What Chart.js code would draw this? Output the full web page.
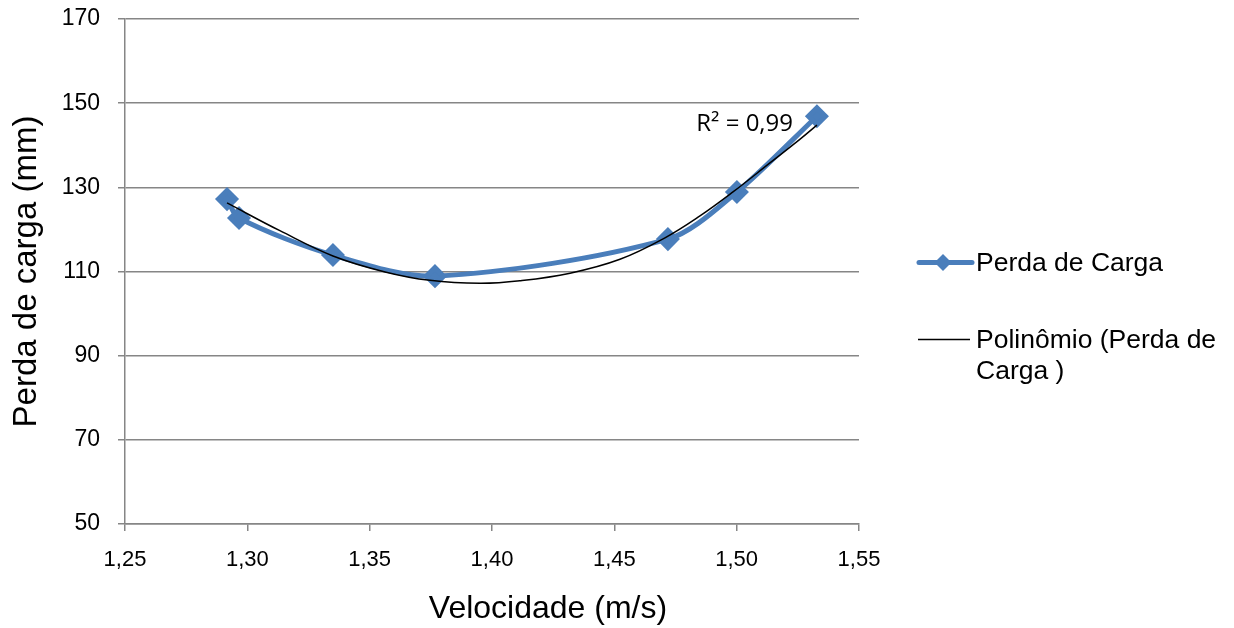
<!DOCTYPE html>
<html>
<head>
<meta charset="utf-8">
<script src="https://cdn.jsdelivr.net/npm/chart.js@4"></script>
<style>
  body { margin: 0; background: #fff; font-family: "Liberation Sans", Arial, sans-serif; }
  #wrap { position: relative; width: 1234px; height: 628px; }
  .leg { position: absolute; left: 916px; font-size: 26.5px; color: #000; }
  .leg .txt { position: absolute; left: 60px; top: 0; line-height: 31px; white-space: nowrap; }
  .xtitle { position: absolute; left: 0; width: 1096px; top: 588px; text-align: center; font-size: 32px; line-height: 38px; }
</style>
</head>
<body>
<div id="wrap">
  <canvas id="chart" width="1234" height="628"></canvas>
  <div class="xtitle">Velocidade (m/s)</div>
  <div class="leg" style="top:247px">
    <svg width="60" height="31" style="position:absolute;left:0;top:0">
      <line x1="3" y1="15.5" x2="56" y2="15.5" stroke="#4A7EBB" stroke-width="5" stroke-linecap="round"/>
      <polygon points="27,7 35.5,15.5 27,24 18.5,15.5" fill="#4A7EBB"/>
    </svg>
    <div class="txt">Perda de Carga</div>
  </div>
  <div class="leg" style="top:324px">
    <svg width="60" height="31" style="position:absolute;left:0;top:0">
      <line x1="2" y1="15.5" x2="54" y2="15.5" stroke="#000" stroke-width="1.5"/>
    </svg>
    <div class="txt">Polinômio (Perda de<br>Carga )</div>
  </div>
</div>
<script>
// 測定データ
const velocidade = [1.2917, 1.2966, 1.335, 1.3767, 1.4719, 1.5001, 1.5328];
const perdaCarga = [127.2, 122.7, 113.9, 108.9, 117.7, 128.9, 146.9];

// 近似曲線
const trendX = [1.2917, 1.3133, 1.335, 1.3563, 1.3746, 1.3951, 1.4114, 1.4319, 1.4523, 1.4707, 1.485, 1.4985, 1.5136, 1.5258, 1.5328];
const trendY = [126.3, 119.7, 113.7, 109.9, 107.9, 107.2, 107.8, 109.6, 112.9, 118.0, 123.2, 128.9, 135.8, 141.4, 144.8];

const xTicks = [1.25, 1.30, 1.35, 1.40, 1.45, 1.50, 1.55];
const yTicks = [50, 70, 90, 110, 130, 150, 170];
const r2Label = 'R² = 0,99';

const fmt = v => v.toFixed(2).replace('.', ',');

// R² ラベル描画
const r2Plugin = {
    id: 'r2Plugin',
    afterDatasetsDraw(chart) {
        const ctx = chart.ctx;
        const x = chart.scales.x.getPixelForValue(1.4835);
        const y = chart.scales.y.getPixelForValue(145.1);
        ctx.save();
        ctx.font = '24px "Open Sans", "Liberation Sans", sans-serif';
        ctx.fillStyle = '#000';
        ctx.textAlign = 'left';
        ctx.textBaseline = 'middle';
        ctx.fillText(r2Label, x, y);
        ctx.restore();
    }
};

const gray = '#868686';

new Chart(document.getElementById('chart').getContext('2d'), {
    type: 'scatter',
    data: {
        datasets: [
            {
                label: 'Polinômio (Perda de Carga )',
                data: trendX.map((x, i) => ({ x: x, y: trendY[i] })),
                showLine: true,
                borderColor: '#000',
                borderWidth: 1.5,
                pointRadius: 0,
                tension: 0.4,
                order: 1
            },
            {
                label: 'Perda de Carga',
                data: velocidade.map((x, i) => ({ x: x, y: perdaCarga[i] })),
                showLine: true,
                borderColor: '#4A7EBB',
                backgroundColor: '#4A7EBB',
                borderWidth: 5,
                pointStyle: 'rectRot',
                pointRadius: 8.5,
                pointHoverRadius: 8.5,
                tension: 0.3,
                order: 2
            }
        ]
    },
    options: {
        responsive: false,
        animation: false,
        layout: { padding: { top: 19, right: 375, left: 0, bottom: 0 } },
        plugins: {
            legend: { display: false },
            tooltip: { enabled: false }
        },
        scales: {
            x: {
                type: 'linear',
                min: 1.25,
                max: 1.55,
                afterBuildTicks: s => { s.ticks = xTicks.map(v => ({ value: v })); },
                afterFit: s => { s.height = 104; },
                grid: { display: true, drawOnChartArea: false, color: gray, lineWidth: 1.5, tickLength: 7 },
                border: { color: gray, width: 1.5 },
                ticks: {
                    callback: v => fmt(v),
                    color: '#000',
                    font: { family: '"Liberation Sans", Arial, sans-serif', size: 22 },
                    padding: 16,
                    maxRotation: 0
                }
            },
            y: {
                min: 50,
                max: 170,
                afterBuildTicks: s => { s.ticks = yTicks.map(v => ({ value: v })); },
                afterFit: s => { s.width = 125; s.paddingTop = 10; s.paddingBottom = 10; },
                grid: { color: gray, lineWidth: 1.5, tickLength: 7 },
                border: { color: gray, width: 1.5 },
                ticks: {
                    color: '#000',
                    font: { family: '"Liberation Sans", Arial, sans-serif', size: 23 },
                    padding: 18
                },
                title: {
                    display: true,
                    text: 'Perda de carga (mm)',
                    color: '#000',
                    font: { family: '"Liberation Sans", Arial, sans-serif', size: 33 },
                    padding: { top: 7, bottom: 0 }
                }
            }
        }
    },
    plugins: [r2Plugin]
});
</script>
</body>
</html>
